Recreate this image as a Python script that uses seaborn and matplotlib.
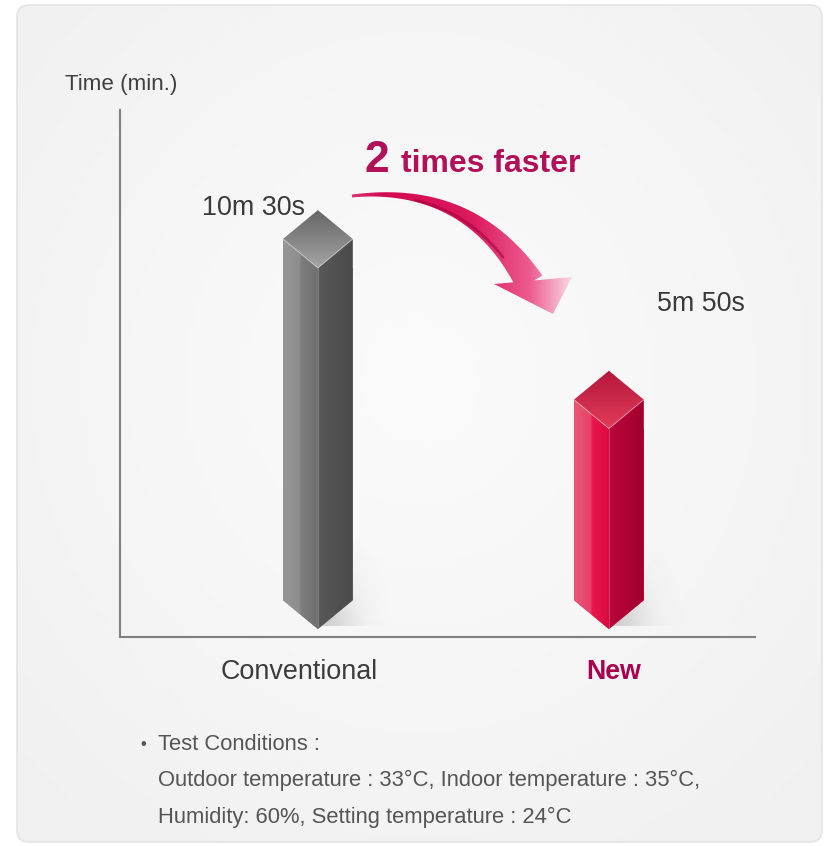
import numpy as np
import matplotlib
matplotlib.use('Agg')
import matplotlib.pyplot as plt
import seaborn as sns
from matplotlib.patches import Polygon, FancyBboxPatch
from matplotlib.colors import LinearSegmentedColormap, to_rgb

# 数据
categories = ['Conventional', 'New']
minutes = [10.5, 5.83]
time_labels = ['10m 30s', '5m 50s']

# 样式
cat_colors = ['#3c3c3c', '#a8004f']
cat_weights = ['normal', 'bold']
cat_sizes = [19.4, 19.3]
left_faces = [[(0, '#979797'), (0.47, '#8d8d8d'), (0.53, '#7c7c7c'), (1, '#707070')],
              [(0, '#ea5676'), (0.47, '#e8426a'), (0.53, '#e8164c'), (1, '#dc0a3f')]]
right_faces = [['#595959', '#4a4a4a'], ['#ba063b', '#a2002e']]
top_faces = [['#a4a4a4', '#666666'], ['#e43c5a', '#b4173b']]

sns.set_theme(style='white')
plt.rcParams['font.family'] = ['Liberation Sans', 'DejaVu Sans']

fig = plt.figure(figsize=(8.28, 8.46), dpi=100)
fig.patch.set_facecolor('white')

# 背景层 (像素坐标)
bg = fig.add_axes([0, 0, 1, 1])
bg.set_xlim(0, 828)
bg.set_ylim(846, 0)
bg.axis('off')

panel = FancyBboxPatch((17, 5), 805, 837, boxstyle='round,pad=0,rounding_size=12',
                       fc='none', ec='#e4e4e4', lw=1.2, zorder=2)
bg.add_patch(panel)
yy, xx = np.mgrid[0:1:200j, 0:1:200j]
r = np.hypot((xx - 0.5) / 0.5, (yy - 0.45) / 0.5)
cmap_bg = LinearSegmentedColormap.from_list('bg', ['#fbfbfb', '#f6f6f6', '#f0f0f0'])
im = bg.imshow(r, cmap=cmap_bg, vmin=0, vmax=1.45, extent=(17, 822, 842, 5),
               aspect='auto', zorder=0.5)
im.set_clip_path(panel)

# 主坐标轴
ax = fig.add_axes([120 / 828, 1 - 637 / 846, 635 / 828, 527 / 846])
ax.patch.set_alpha(0)

sns.barplot(x=categories, y=minutes, hue=categories, palette=['#888888', '#e8184c'],
            width=0.24, saturation=1, legend=False, ax=ax, zorder=2)


def shade(verts, colors, vertical=False, z=3):
    poly = Polygon(verts, closed=True, transform=ax.transData)
    xs, ys = zip(*verts)
    cmap = LinearSegmentedColormap.from_list('f', colors)
    g = np.linspace(0, 1, 128)
    g = g.reshape(-1, 1) if vertical else g.reshape(1, -1)
    img = ax.imshow(g, cmap=cmap, extent=(min(xs), max(xs), min(ys), max(ys)),
                    origin='lower', aspect='auto', interpolation='bilinear', zorder=z)
    img.set_clip_path(poly)


def shadow(x0, y0, rx, ry, color, alpha, z=1.5):
    # 从柱体右侧向外渐隐的软阴影
    Y, X = np.mgrid[0:1:80j, 0:1:80j]
    a = alpha * np.exp(-5 * X ** 2) * np.exp(-3.5 * Y ** 2)
    rgba = np.zeros((80, 80, 4))
    rgba[..., :3] = to_rgb(color)
    rgba[..., 3] = a
    ax.imshow(rgba, extent=(x0, x0 + rx, y0, y0 + ry), origin='lower',
              aspect='auto', interpolation='bilinear', zorder=z)


D = 0.84  # 顶面菱形的半高
bars = sorted(ax.patches, key=lambda p: p.get_x())
label_offsets = [(-9.5, -3.5, 'right'), (34.5, 43, 'left')]
cat_offsets = [-13.7, 3.6]
for i, p in enumerate(bars):
    w = p.get_width() / 2
    c = p.get_x() + w
    h = p.get_height()
    sil = Polygon([(c - w, D), (c, 0), (c + w, D), (c + w, h + D), (c, h + 2 * D), (c - w, h + D)],
                  closed=True, transform=ax.transData)
    p.set_edgecolor('none')
    p.set_clip_path(sil)

    shadow(c, 0.1, w + 0.15, 2.6, '#707070', 0.3)

    shade([(c - w, D), (c, 0), (c, h), (c - w, h + D)], left_faces[i])
    shade([(c, 0), (c + w, D), (c + w, h + D), (c, h)], right_faces[i])
    shade([(c - w, h + D), (c, h), (c + w, h + D), (c, h + 2 * D)], top_faces[i], vertical=True)
    ax.plot([c, c], [0, h], color='white', alpha=0.22, lw=0.8, zorder=4)
    ax.plot([c - w, c, c + w], [h + D, h, h + D], color='white', alpha=0.35, lw=0.8, zorder=4)

    dx, dy, ha = label_offsets[i]
    ax.annotate(time_labels[i], xy=(c, h + 2 * D), xytext=(dx, dy), textcoords='offset points',
                ha=ha, va='baseline', fontsize=19.4, color='#3a3a3a')
    ax.annotate(categories[i], xy=(c, 0), xycoords=('data', 'axes fraction'),
                xytext=(cat_offsets[i], -30.2), textcoords='offset points',
                ha='center', va='baseline', fontsize=cat_sizes[i],
                color=cat_colors[i], fontweight=cat_weights[i])

ax.set_xlim(-0.68, 1.502)
ax.set_ylim(-0.23, 15.09)
ax.set_xticks([])
ax.set_yticks([])
ax.set_xlabel('')
ax.set_ylabel('')
for s in ['top', 'right']:
    ax.spines[s].set_visible(False)
for s in ['left', 'bottom']:
    ax.spines[s].set_color('#808080')
    ax.spines[s].set_linewidth(1.5)

# 标题文字
bg.text(65, 90, 'Time (min.)', fontsize=16.1, color='#404040', va='baseline')
bg.text(365, 172, '2', fontsize=32, fontweight='bold', color='#b3105a', va='baseline')
bg.text(401, 172, 'times faster', fontsize=23, fontweight='bold', color='#b3105a', va='baseline')

# 弯曲箭头
P0, P1, P2 = np.array([352, 196]), np.array([470, 183]), np.array([530, 283])
t = np.linspace(0, 1, 120)[:, None]
B = (1 - t) ** 2 * P0 + 2 * (1 - t) * t * P1 + t ** 2 * P2
dB = 2 * (1 - t) * (P1 - P0) + 2 * t * (P2 - P1)
n = np.column_stack([-dB[:, 1], dB[:, 0]]) / np.linalg.norm(dB, axis=1)[:, None]
wd = 3 + 26 * t ** 1.4
lower = B + n * wd / 2
upper = B - n * wd / 2
body = Polygon(np.vstack([upper, lower[::-1]]), closed=True, transform=bg.transData)
head = Polygon([(494, 284), (572, 277), (553, 314)], closed=True, transform=bg.transData)
cmap_ar = LinearSegmentedColormap.from_list('ar', [(0, '#e0357a'), (0.15, '#d20a52'),
                                                   (0.55, '#dc1a5e'), (0.8, '#ec5a8e'),
                                                   (1, '#fbe2ec')])
for poly in (body, head):
    img = bg.imshow(np.linspace(0, 1, 256).reshape(1, -1), cmap=cmap_ar,
                    extent=(348, 575, 320, 175), aspect='auto', interpolation='bilinear', zorder=3)
    img.set_clip_path(poly)
edge = B + n * wd * 0.3
k = slice(35, 100)
bg.plot(edge[k, 0], edge[k, 1], color='#a0003a', lw=2.0, alpha=0.55, zorder=3.5,
        solid_capstyle='round')

# 测试条件
bg.text(143, 744, '•', fontsize=12, color='#555555', ha='center', va='center')
bg.text(158, 750, 'Test Conditions :', fontsize=15.8, color='#555555', va='baseline')
bg.text(158, 786, 'Outdoor temperature : 33°C, Indoor temperature : 35°C,', fontsize=15.8,
        color='#555555', va='baseline')
bg.text(158, 823, 'Humidity: 60%, Setting temperature : 24°C', fontsize=15.8,
        color='#555555', va='baseline')

fig.savefig('out.png', dpi=100)
